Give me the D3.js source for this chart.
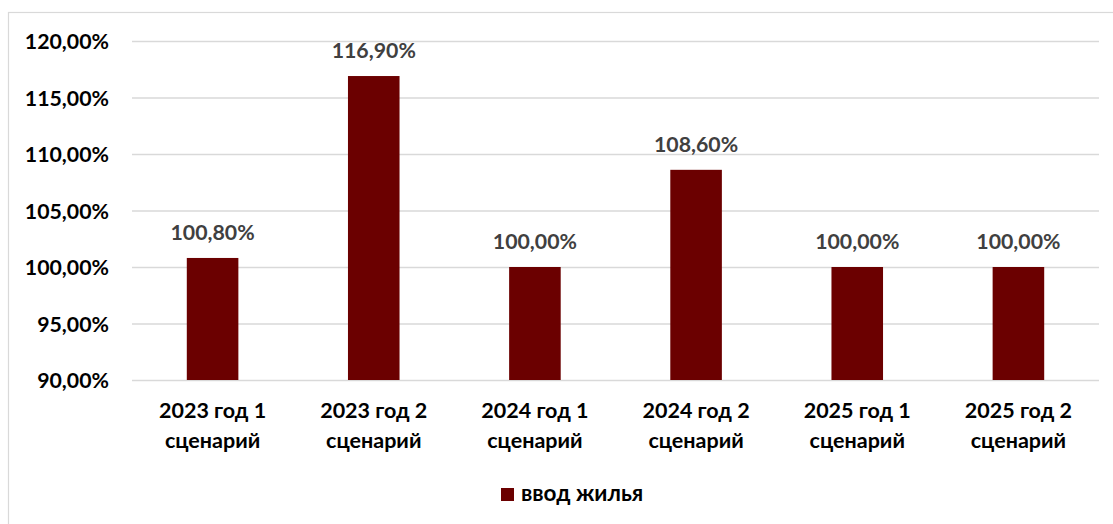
<!DOCTYPE html>
<html><head><meta charset="utf-8">
<script src="https://cdn.jsdelivr.net/npm/d3@7"></script>
<style>body{margin:0;background:#fff;} svg{display:block;} text{font-family:Lato,"Open Sans",sans-serif;font-weight:700;}</style>
</head><body>
<svg id="c" width="1113" height="524"></svg>
<script>
const categories = [["2023 год 1","сценарий"],["2023 год 2","сценарий"],["2024 год 1","сценарий"],["2024 год 2","сценарий"],["2025 год 1","сценарий"],["2025 год 2","сценарий"]];
const values = [100.8, 116.9, 100.0, 108.6, 100.0, 100.0];
const labels = ["100,80%","116,90%","100,00%","108,60%","100,00%","100,00%"];
const yTicks = [90,95,100,105,110,115,120];
const seriesName = "ввод жилья";
const color = "#6B0000";

const svg = d3.select("#c");
svg.append("rect").attr("x",8.5).attr("y",12.5).attr("width",1200).attr("height",600)
  .attr("fill","none").attr("stroke","#d9d9d9").attr("stroke-width",1.2);

const m = {l:132, r:1099, t:41, b:380};
const x = d3.scaleBand().domain(d3.range(categories.length)).range([m.l, m.r]).paddingInner(0.68).paddingOuter(0.34);
const y = d3.scaleLinear().domain([90,120]).range([m.b, m.t]);
const fmt = v => d3.format(".2f")(v).replace(".", ",") + "%";

const yAxis = svg.append("g").attr("transform",`translate(${m.l},0)`)
  .call(d3.axisLeft(y).tickValues(yTicks).tickFormat(fmt).tickSize(-(m.r-m.l)).tickPadding(23));
yAxis.select(".domain").remove();
yAxis.selectAll("line").attr("stroke","#d9d9d9").attr("stroke-width",1.3);
yAxis.selectAll("text").attr("fill","#000").style("font-size","21.3px").attr("dy","0.36em");

svg.selectAll(".bar").data(values).join("rect")
  .attr("x",(d,i)=>x(i)).attr("width",x.bandwidth())
  .attr("y",d=>y(d)).attr("height",d=>y(90)-y(d)).attr("fill",color);

svg.selectAll(".lbl").data(values).join("text")
  .attr("x",(d,i)=>x(i)+x.bandwidth()/2).attr("y",d=>y(d)-18)
  .attr("text-anchor","middle").attr("fill","#404040").style("font-size","21.3px")
  .text((d,i)=>labels[i]);

const xl = svg.selectAll(".xl").data(categories).join("text")
  .attr("text-anchor","middle").attr("fill","#000").style("font-size","21.5px");
xl.each(function(d,i){
  const t = d3.select(this), cx = x(i)+x.bandwidth()/2;
  d.forEach((s,k)=>t.append("tspan").attr("x",cx).attr("y",418+k*30).text(s));
});

const lg = svg.append("g");
lg.append("rect").attr("x",501).attr("y",488).attr("width",13).attr("height",13).attr("fill",color);
lg.append("text").attr("x",521).attr("y",501).attr("fill","#000").style("font-size","22.5px").text(seriesName);
</script>
</body></html>
